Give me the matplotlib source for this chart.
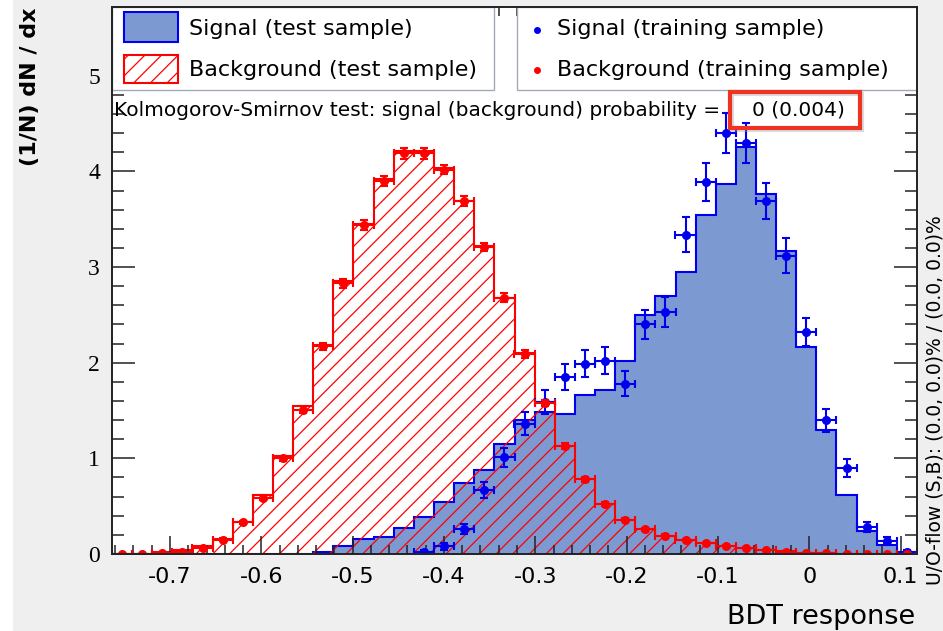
import numpy as np
import matplotlib

matplotlib.use("Agg")  # headless
import matplotlib.pyplot as plt  # noqa: E402
from matplotlib.patches import Rectangle  # noqa: E402
from matplotlib.ticker import MultipleLocator, FuncFormatter  # noqa: E402

plt.rcParams["axes.unicode_minus"] = False
plt.rcParams["hatch.linewidth"] = 0.9
plt.rcParams["font.family"] = "DejaVu Sans"

W, H = 943, 631
X_MIN, X_MAX = -0.7635, 0.118
Y_MAX = 5.72
N_BINS = 40

# test-sample histograms (normalised), 40 bins
sig_test = [0, 0, 0, 0, 0, 0, 0, 0, 0, 0.005,
            0.025, 0.08, 0.16, 0.18, 0.27, 0.39, 0.54, 0.74, 0.88, 1.15,
            1.40, 1.49, 1.46, 1.66, 1.72, 2.02, 2.50, 2.70, 2.95, 3.55,
            3.87, 4.26, 3.76, 3.17, 2.16, 1.30, 0.62, 0.24, 0.09, 0.025]
bkg_test = [0, 0.005, 0.02, 0.04, 0.08, 0.155, 0.33, 0.62, 1.02, 1.55,
            2.19, 2.85, 3.45, 3.92, 4.21, 4.21, 4.04, 3.69, 3.22, 2.68,
            2.10, 1.59, 1.13, 0.78, 0.52, 0.36, 0.26, 0.19, 0.145, 0.11,
            0.08, 0.06, 0.04, 0.03, 0.015, 0.01, 0.005, 0.002, 0.001, 0.001]

# training-sample points with errors
sig_train = [0, 0, 0, 0, 0, 0, 0, 0, 0, 0,
             0, 0, 0, 0, 0, 0.025, 0.08, 0.26, 0.67, 1.01,
             1.36, 1.59, 1.85, 1.99, 2.02, 1.78, 2.40, 2.53, 3.34, 3.89,
             4.40, 4.30, 3.69, 3.12, 2.32, 1.40, 0.90, 0.28, 0.14, 0.025]
sig_train_err = [0, 0, 0, 0, 0, 0, 0, 0, 0, 0,
                 0, 0, 0, 0, 0, 0.02, 0.04, 0.05, 0.08, 0.10,
                 0.12, 0.13, 0.14, 0.14, 0.14, 0.13, 0.15, 0.16, 0.18, 0.20,
                 0.21, 0.21, 0.19, 0.18, 0.15, 0.12, 0.09, 0.05, 0.04, 0.02]
bkg_train = [0, 0, 0.01, 0.025, 0.06, 0.15, 0.33, 0.59, 1.00, 1.51,
             2.17, 2.83, 3.44, 3.90, 4.19, 4.19, 4.02, 3.69, 3.21, 2.68,
             2.09, 1.58, 1.13, 0.78, 0.52, 0.36, 0.26, 0.19, 0.145, 0.11,
             0.08, 0.06, 0.04, 0.025, 0.01, 0.01, 0.005, 0.002, 0.001, 0.001]
bkg_train_err = [0.002, 0.002, 0.005, 0.008, 0.01, 0.015, 0.02, 0.025, 0.03, 0.035,
                 0.04, 0.045, 0.05, 0.05, 0.055, 0.055, 0.05, 0.05, 0.045, 0.045,
                 0.04, 0.035, 0.03, 0.025, 0.02, 0.02, 0.015, 0.015, 0.01, 0.01,
                 0.01, 0.008, 0.006, 0.005, 0.004, 0.003, 0.002, 0.002, 0.001, 0.001]

SIG_FILL, SIG_LINE = "#7d99d1", "#0000ee"
BKG_LINE = "#ff0000"
LEG_EDGE = "#a3a9bb"

edges = np.linspace(X_MIN, X_MAX, N_BINS + 1)
centers = 0.5 * (edges[:-1] + edges[1:])
half_bw = 0.5 * (edges[1] - edges[0])

fig = plt.figure(figsize=(W / 100, H / 100), dpi=100, facecolor="#efefef")
fig.add_artist(Rectangle((0, 0), 13 / W, 1, transform=fig.transFigure,
                         facecolor="white", edgecolor="none", zorder=-1))
ax = fig.add_axes([112 / W, 1 - 554 / H, 805 / W, 547 / H])
ax.set_facecolor("white")


def fx(px):
    return px / W


def fy(py):
    return 1 - py / H


# histograms
ax.stairs(sig_test, edges, fill=True, facecolor=SIG_FILL, edgecolor=SIG_LINE,
          linewidth=1.5, zorder=1)
ax.stairs(bkg_test, edges, fill=True, facecolor="none", edgecolor=BKG_LINE,
          hatch="//", linewidth=1.5, zorder=1.1)

# training points
sig_train_a = np.array(sig_train)
mask = sig_train_a > 0
ax.errorbar(centers[mask], sig_train_a[mask], xerr=half_bw,
            yerr=np.array(sig_train_err)[mask], fmt="o", color=SIG_LINE,
            ms=5.5, elinewidth=1.5, capsize=3, capthick=1.5, zorder=2)
ax.errorbar(centers, bkg_train, xerr=half_bw, yerr=bkg_train_err, fmt="o",
            color=BKG_LINE, ms=5.5, elinewidth=1.5, capsize=3, capthick=1.5,
            zorder=2.1)

ax.set_xlim(X_MIN, X_MAX)
ax.set_ylim(0, Y_MAX)

ax.xaxis.set_major_locator(MultipleLocator(0.1))
ax.xaxis.set_minor_locator(MultipleLocator(0.02))
ax.yaxis.set_major_locator(MultipleLocator(1))
ax.yaxis.set_minor_locator(MultipleLocator(0.2))
fmt = FuncFormatter(lambda v, _: f"{v:g}" if abs(v) > 1e-9 else "0")
ax.xaxis.set_major_formatter(fmt)
ax.yaxis.set_major_formatter(fmt)

ax.tick_params(which="both", direction="in", top=True, right=True,
               color="#222222", width=1.1)
ax.tick_params(axis="x", which="major", length=13, pad=9.5, labelsize=16)
ax.tick_params(axis="x", which="minor", length=6.5)
ax.tick_params(axis="y", which="major", length=16.5, pad=8.6, labelsize=17)
ax.tick_params(axis="y", which="minor", length=8.6)
for lab in ax.get_yticklabels():
    lab.set_fontfamily("Liberation Serif")
for sp in ax.spines.values():
    sp.set_linewidth(1.4)
    sp.set_color("#222222")

# legend boxes (drawn by hand, ticks stay on top like ROOT)
for x0, x1 in [(112, 494), (517, 917)]:
    ax.add_patch(Rectangle((fx(x0), fy(90)), fx(x1) - fx(x0), fy(7) - fy(90),
                           transform=fig.transFigure, facecolor="white",
                           edgecolor=LEG_EDGE, linewidth=1.0, zorder=2.2))
ax.add_patch(Rectangle((fx(124), fy(42)), fx(178) - fx(124), fy(12) - fy(42),
                       transform=fig.transFigure, facecolor=SIG_FILL,
                       edgecolor=SIG_LINE, linewidth=1.5, zorder=2.3))
ax.add_patch(Rectangle((fx(124), fy(83)), fx(178) - fx(124), fy(55) - fy(83),
                       transform=fig.transFigure, facecolor="white",
                       edgecolor=BKG_LINE, hatch="//", linewidth=1.5, zorder=2.3))
ax.plot([fx(537)], [fy(30)], "o", color=SIG_LINE, ms=4, transform=fig.transFigure,
        zorder=2.3, clip_on=False)
ax.plot([fx(537)], [fy(70)], "o", color=BKG_LINE, ms=4, transform=fig.transFigure,
        zorder=2.3, clip_on=False)
leg_items = [(189, 29, "Signal (test sample)"),
             (189, 70, "Background (test sample)"),
             (557, 29, "Signal (training sample)"),
             (557, 70, "Background (training sample)")]
for px, py, txt in leg_items:
    ax.text(fx(px), fy(py), txt, transform=fig.transFigure, fontsize=16,
            va="center", ha="left", zorder=2.4)

# KS test text with highlighted value
ax.text(fx(114), fy(110), "Kolmogorov-Smirnov test: signal (background) probability =",
        transform=fig.transFigure, fontsize=14.5, va="center", ha="left", zorder=3)
ax.text(fx(752), fy(110), "0 (0.004)", transform=fig.transFigure, fontsize=14.5,
        va="center", ha="left", zorder=3)
ax.add_patch(Rectangle((fx(732), fy(130)), fx(862) - fx(732), fy(94) - fy(130),
                       transform=fig.transFigure, facecolor="none",
                       edgecolor="#999999", alpha=0.35, linewidth=3, zorder=4.9))
ax.add_patch(Rectangle((fx(730), fy(128)), fx(860) - fx(730), fy(92) - fy(128),
                       transform=fig.transFigure, facecolor="none",
                       edgecolor="#ee3322", linewidth=3, zorder=5))

# axis titles
fig.text(fx(30), fy(8), "(1/N) dN / dx", rotation=90, fontsize=16,
         fontweight="bold", ha="center", va="top")
fig.text(fx(915), fy(617), "BDT response", fontsize=19.5, ha="right",
         va="center")
fig.text(fx(935), fy(400), "U/O-flow (S,B): (0.0, 0.0)% / (0.0, 0.0)%",
         rotation=90, fontsize=13.5, ha="center", va="center")

fig.savefig("out.png", dpi=100, facecolor=fig.get_facecolor())
